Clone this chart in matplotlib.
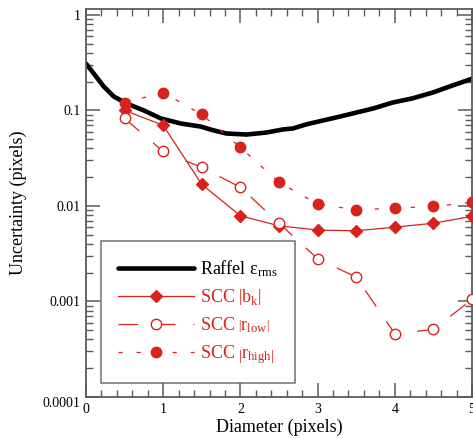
import matplotlib
matplotlib.use("Agg")
import matplotlib.pyplot as plt
import matplotlib.transforms as mtransforms
import numpy as np
from matplotlib.ticker import FixedLocator, FixedFormatter, LogLocator, NullFormatter, MultipleLocator

plt.rcParams["font.family"] = ["Liberation Serif", "DejaVu Serif"]
plt.rcParams["mathtext.fontset"] = "custom"
plt.rcParams["mathtext.rm"] = "Liberation Serif"
plt.rcParams["mathtext.it"] = "Liberation Serif:italic"
plt.rcParams["lines.scale_dashes"] = False

# Raffel rms error curve
raffel_d = [0.0, 0.10, 0.23, 0.36, 0.53, 0.75, 0.97, 1.23, 1.48, 1.65, 1.82, 2.08, 2.34,
            2.55, 2.68, 2.85, 3.07, 3.24, 3.50, 3.72, 3.97, 4.23, 4.49, 4.75, 5.0]
raffel_err = [0.31, 0.244, 0.178, 0.140, 0.118, 0.100, 0.0825, 0.073, 0.068, 0.062, 0.0574,
              0.056, 0.0588, 0.0633, 0.0648, 0.0714, 0.0786, 0.0845, 0.095, 0.105, 0.121,
              0.134, 0.154, 0.183, 0.215]

# SCC estimates
diam = [0.5, 1.0, 1.5, 2.0, 2.5, 3.0, 3.5, 4.0, 4.5, 5.0]
scc_bk = [0.100, 0.070, 0.0168, 0.0079, 0.0062, 0.0056, 0.0055, 0.0060, 0.0066, 0.0078]
scc_rlow = [0.0825, 0.0372, 0.0253, 0.0157, 0.0066, 0.0028, 0.0018, 0.00046, 0.00051, 0.00105]
scc_rhigh = [0.121, 0.154, 0.091, 0.041, 0.0177, 0.0105, 0.0091, 0.0095, 0.0099, 0.0109]

ytick_vals = [1e-4, 1e-3, 1e-2, 1e-1, 1]
ytick_text = ["0.0001", "0.001", "0.01", "0.1", "1"]

red = "#d8231c"
axcol = "#5a5a5a"

W, H = 473, 438
fig = plt.figure(figsize=(W / 100, H / 100), dpi=100)
ax = fig.add_axes([86 / W, (H - 397) / H, 386 / W, 388 / H])

ax.plot(raffel_d, raffel_err, color="black", lw=3.3, solid_capstyle="round",
        label=r"$\mathrm{Raffel\ ε}_{\mathrm{rms}}$", zorder=2)

ax.plot(diam, scc_bk, color=red, lw=0.9, marker="D", ms=6, mec=red, mfc=red,
        label=r"$\mathrm{SCC}\ \left|\mathrm{b}_{\mathrm{k}}\right|$", zorder=3)
l_low, = ax.plot(diam, scc_rlow, color=red, lw=0.9, marker="o", ms=7.5, mec=red, mfc="white",
                 mew=1.0, label=r"$\mathrm{SCC}\ \left|\mathrm{r}_{\mathrm{low}}\right|$", zorder=3)
l_low.set_dashes((14, 13))
l_high, = ax.plot(diam, scc_rhigh, color=red, lw=0.9, marker="o", ms=7.5, mec=red, mfc=red,
                  label=r"$\mathrm{SCC}\ \left|\mathrm{r}_{\mathrm{high}}\right|$", zorder=3)
l_high.set_dashes((3, 10))

ax.set_yscale("log")
ax.set_xlim(0, 5)
ax.set_ylim(1e-4, 1.155)

ax.xaxis.set_major_locator(MultipleLocator(1))
ax.xaxis.set_minor_locator(MultipleLocator(0.2))
ax.yaxis.set_major_locator(FixedLocator(ytick_vals))
ax.yaxis.set_major_formatter(FixedFormatter(ytick_text))
ax.yaxis.set_minor_locator(LogLocator(base=10, subs=np.arange(2, 10), numticks=20))
ax.yaxis.set_minor_formatter(NullFormatter())

for s in ax.spines.values():
    s.set_color(axcol)
    s.set_linewidth(1.3)
ax.tick_params(which="both", direction="in", top=True, right=True, colors=axcol,
               labelcolor="black", labelsize=10)
ax.tick_params(which="major", length=10, width=1.1, pad=4)
ax.tick_params(which="minor", length=5, width=1.0)

ax.set_xlabel("Diameter (pixels)", fontsize=13)
ax.set_ylabel("Uncertainty (pixels)", fontsize=13)
ax.xaxis.set_label_coords(0.5, -0.055)
ax.yaxis.set_label_coords(-0.152, 0.5)

# bottom y label sits a little lower than its tick
fig.canvas.draw()
lab0 = ax.yaxis.get_majorticklabels()[0]
lab0.set_transform(lab0.get_transform() + mtransforms.ScaledTranslation(0, -5 / 100, fig.dpi_scale_trans))

leg = ax.legend(loc="lower left", bbox_to_anchor=(0.039, 0.036), fontsize=13,
                frameon=True, fancybox=False, handlelength=4.2, handletextpad=0.35,
                labelspacing=0.45, borderpad=0.95, borderaxespad=0, numpoints=1)
leg.get_frame().set_edgecolor(axcol)
leg.get_frame().set_linewidth(1.2)
for i, t in enumerate(leg.get_texts()):
    t.set_color("black" if i == 0 else red)

fig.savefig("out.png", dpi=100)
